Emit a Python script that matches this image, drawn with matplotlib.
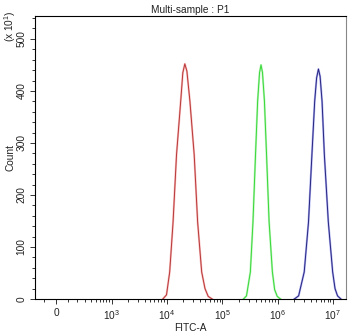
import numpy as np
import matplotlib
matplotlib.use("Agg")
import matplotlib.pyplot as plt
from matplotlib.ticker import FixedLocator, NullFormatter

plt.rcParams["font.family"] = ["Liberation Sans", "DejaVu Sans"]
plt.rcParams["mathtext.fontset"] = "custom"
plt.rcParams["mathtext.rm"] = "Liberation Sans"
plt.rcParams["mathtext.it"] = "Liberation Sans"

# histogram outlines (FITC-A value, count /10)
red_x = [8.5e3, 9.9e3, 1.13e4, 1.30e4, 1.50e4, 1.80e4, 1.95e4, 2.12e4, 2.31e4,
         2.62e4, 3.13e4, 3.61e4, 4.27e4, 4.9e4, 5.6e4, 6.6e4]
red_y = [0, 8, 52, 148, 277, 385, 435, 452, 438, 380, 277, 148, 52, 20, 5, 0]

green_x = [2.43e5, 2.75e5, 3.23e5, 3.60e5, 4.0e5, 4.37e5, 4.73e5, 5.03e5, 5.35e5,
           5.8e5, 6.33e5, 7.04e5, 8.07e5, 8.86e5, 9.88e5, 1.13e6]
green_y = [0, 6, 52, 148, 277, 380, 435, 450, 435, 380, 277, 148, 52, 18, 5, 0]

blue_x = [2.01e6, 2.40e6, 3.03e6, 3.62e6, 4.17e6, 4.68e6, 5.07e6, 5.47e6, 5.86e6,
          6.36e6, 7.0e6, 8.25e6, 9.88e6, 1.09e7, 1.21e7, 1.39e7]
blue_y = [0, 6, 52, 148, 277, 380, 425, 442, 428, 380, 277, 148, 52, 20, 6, 0]

x_major = [0, 1e3, 1e4, 1e5, 1e6, 1e7]
x_labels = ["0", "$10^3$", "$10^4$", "$10^5$", "$10^6$", "$10^7$"]
y_major = [0, 100, 200, 300, 400, 500]

C = 200.0  # biexponential-like width


def fwd(v):
    return np.arcsinh(np.asarray(v, dtype=float) / C) / np.log(10)


def inv(u):
    return C * np.sinh(np.asarray(u, dtype=float) * np.log(10))


fig = plt.figure(figsize=(3.5, 3.32), dpi=100)
ax = fig.add_axes([35 / 350, 1 - 299 / 332, 311 / 350, 283 / 332])
ax.set_xscale("function", functions=(fwd, inv))

ax.plot(red_x, red_y, color="#f4a0a0", lw=1.5, alpha=0.7)
ax.plot(red_x, red_y, color="#b83838", lw=0.7)
ax.plot(green_x, green_y, color="#a0f0a0", lw=1.5, alpha=0.7)
ax.plot(green_x, green_y, color="#38d838", lw=0.7)
ax.plot(blue_x, blue_y, color="#9090ec", lw=1.5, alpha=0.7)
ax.plot(blue_x, blue_y, color="#262680", lw=0.7)

ax.set_xlim(-197, 1.72e7)
ax.set_ylim(0, 544)

ax.xaxis.set_major_locator(FixedLocator(x_major))
ax.set_xticklabels(x_labels)
minors = [-100]
minors += [k * 100 for k in range(1, 10)]
for e in range(3, 7):
    minors += [k * 10 ** e for k in range(2, 10)]
ax.xaxis.set_minor_locator(FixedLocator(minors))
ax.xaxis.set_minor_formatter(NullFormatter())

ax.set_yticks(y_major)
ax.yaxis.set_minor_locator(FixedLocator(range(20, 541, 20)))
for lab in ax.get_yticklabels():
    lab.set_rotation(90)
    lab.set_va("center")

txt = "#222222"
ax.tick_params(axis="both", which="major", length=3.6, width=0.7, labelsize=7.3,
               color="#333333", labelcolor=txt, direction="out")
ax.tick_params(axis="both", which="minor", length=2.2, width=0.7,
               color="#333333", direction="out")
ax.tick_params(axis="y", pad=2.5)
ax.tick_params(axis="x", pad=3)

for s in ax.spines.values():
    s.set_linewidth(0.8)
    s.set_color("black")
ax.spines["right"].set_color("#888888")

ax.set_title("Multi-sample : P1", fontsize=7.3, pad=2.5, color=txt)
ax.set_xlabel("FITC-A", fontsize=7.3, labelpad=0.5, color=txt)
ax.set_ylabel("Count", fontsize=7.3, labelpad=0.5, color=txt)
fig.text(10 / 350, 1 - 26 / 332, "(x $10^1$)", rotation=90, ha="center",
         va="center", fontsize=7.3, color=txt)

fig.savefig("out.png", dpi=100)
